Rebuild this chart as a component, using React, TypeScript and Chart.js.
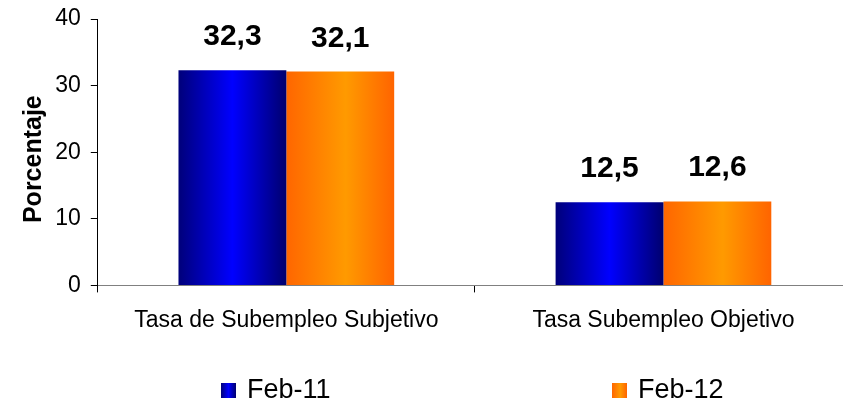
import React, { useEffect, useRef } from "react";
import { Chart, registerables } from "chart.js";

Chart.register(...registerables);

// ---- data ----
const categories = ["Tasa de Subempleo Subjetivo", "Tasa Subempleo Objetivo"];
const seriesNames = ["Feb-11", "Feb-12"];
const feb11Values = [32.3, 12.5];
const feb12Values = [32.1, 12.6];
const yTickValues = [0, 10, 20, 30, 40];
const yAxisTitle = "Porcentaje";

// ---- style ----
const FONT = "'Liberation Sans', Arial, Helvetica, sans-serif";
const SOLID = ["#0000CC", "#FF8800"];
const STOPS: [number, string][][] = [
  [
    [0, "#00007A"],
    [0.5, "#0000FF"],
    [1, "#00006E"],
  ],
  [
    [0, "#FF6600"],
    [0.55, "#FF9A00"],
    [1, "#FF6400"],
  ],
];
const LEGEND_LEFT = [221, 612];

const fmt = (v: number) => v.toFixed(1).replace(".", ",");

const gradientPlugin = {
  id: "barGradients",
  beforeDatasetsDraw(chart: any) {
    const c = chart.ctx;
    chart.data.datasets.forEach((_ds: any, di: number) => {
      const meta = chart.getDatasetMeta(di);
      meta.data.forEach((el: any) => {
        const { x, width } = el.getProps(["x", "width"], true);
        const g = c.createLinearGradient(x - width / 2, 0, x + width / 2, 0);
        STOPS[di].forEach(([o, col]) => g.addColorStop(o, col));
        el.options.backgroundColor = g;
      });
    });
  },
};

const valueLabelPlugin = {
  id: "valueLabels",
  afterDatasetsDraw(chart: any) {
    const c = chart.ctx;
    c.save();
    c.font = `bold 30px ${FONT}`;
    c.fillStyle = "#000";
    c.textAlign = "center";
    c.textBaseline = "alphabetic";
    chart.data.datasets.forEach((ds: any, di: number) => {
      const meta = chart.getDatasetMeta(di);
      meta.data.forEach((el: any, i: number) => {
        const { x, y } = el.getProps(["x", "y"], true);
        c.fillText(fmt(ds.data[i]), x, y - 25);
      });
    });
    c.restore();
  },
};

const legendPlugin = {
  id: "customLegend",
  afterDraw(chart: any) {
    const c = chart.ctx;
    const h = chart.height;
    c.save();
    c.font = `27px ${FONT}`;
    c.textAlign = "left";
    c.textBaseline = "alphabetic";
    chart.data.datasets.forEach((ds: any, di: number) => {
      const bx = LEGEND_LEFT[di];
      const by = h - 23;
      const g = c.createLinearGradient(bx, 0, bx + 15, 0);
      STOPS[di].forEach(([o, col]) => g.addColorStop(o, col));
      c.fillStyle = g;
      c.fillRect(bx, by, 15, 15);
      c.fillStyle = "#000";
      c.fillText(ds.label, bx + 26, h - 8);
    });
    c.restore();
  },
};

export default function App() {
  const ref = useRef<HTMLCanvasElement | null>(null);

  useEffect(() => {
    if (!ref.current) return;
    const chart = new Chart(ref.current, {
      type: "bar",
      data: {
        labels: categories,
        datasets: [
          {
            label: seriesNames[0],
            data: feb11Values,
            backgroundColor: () => SOLID[0],
            borderWidth: 0,
          },
          {
            label: seriesNames[1],
            data: feb12Values,
            backgroundColor: () => SOLID[1],
            borderWidth: 0,
          },
        ],
      },
      options: {
        responsive: false,
        animation: false,
        layout: { padding: { left: 18.7, top: 19, right: 0, bottom: 58 } },
        plugins: {
          legend: { display: false },
          tooltip: { enabled: false },
        },
        datasets: {
          bar: { categoryPercentage: 0.572, barPercentage: 1.0 },
        },
        scales: {
          x: {
            z: 1,
            grid: {
              display: true,
              drawOnChartArea: false,
              drawTicks: true,
              tickLength: 7,
              color: "#000",
              offset: true,
            },
            border: { display: true, color: "#808080", width: 1 },
            ticks: {
              color: "#000",
              font: { family: FONT, size: 23 },
              padding: 14,
              maxRotation: 0,
              autoSkip: false,
            },
          },
          y: {
            min: 0,
            max: 40,
            afterBuildTicks: (scale: any) => {
              scale.ticks = yTickValues.map((v) => ({ value: v }));
            },
            grid: {
              display: true,
              drawOnChartArea: false,
              drawTicks: true,
              tickLength: 7,
              color: "#000",
            },
            border: { display: true, color: "#000", width: 1 },
            ticks: {
              color: "#000",
              font: { family: FONT, size: 23, lineHeight: 0.5 },
              padding: 10,
            },
            title: {
              display: true,
              text: yAxisTitle + "  ",
              color: "#000",
              font: { family: FONT, size: 25, weight: "bold", lineHeight: 0.9 },
              padding: { top: 4, bottom: 0 },
            },
          },
        },
      },
      plugins: [gradientPlugin, valueLabelPlugin, legendPlugin],
    });
    return () => chart.destroy();
  }, []);

  return (
    <div
      style={{
        position: "fixed",
        left: 0,
        top: 0,
        width: 843,
        height: 406,
        overflow: "hidden",
        background: "#fff",
      }}
    >
      <canvas ref={ref} width={852} height={406} style={{ display: "block" }} />
    </div>
  );
}
